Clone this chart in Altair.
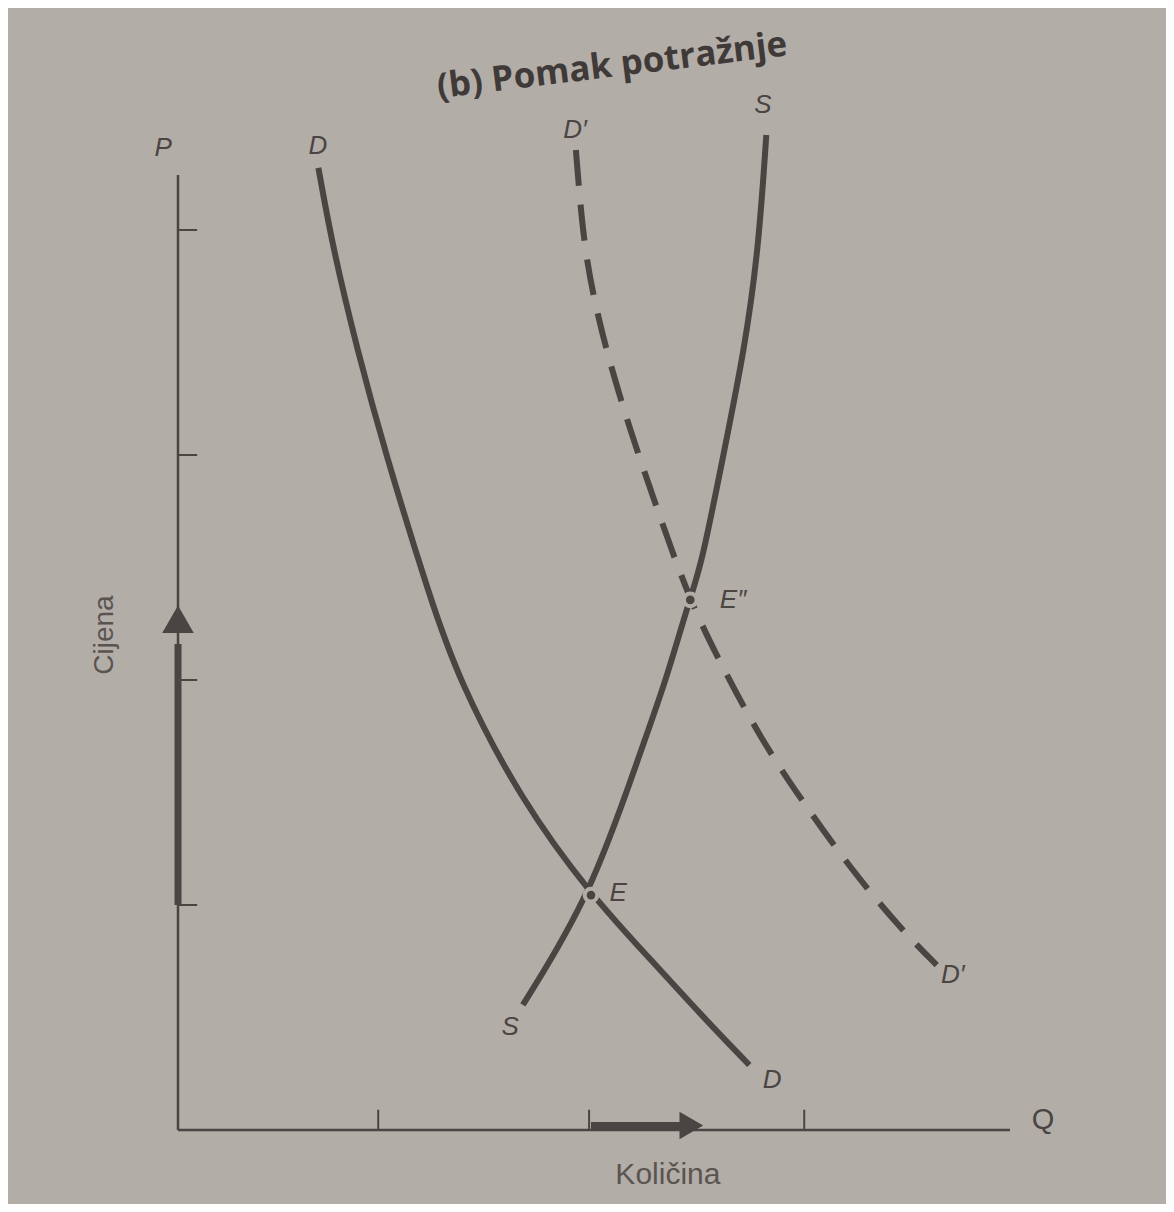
import altair as alt
import pandas as pd

# ---- data (origin = axes corner) ----
d_q = [0.659, 0.729, 0.842, 0.969, 1.186, 1.318, 1.609, 1.939, 2.221, 2.456, 2.682]
d_p = [4.276, 3.911, 3.467, 3.022, 2.356, 2.000, 1.467, 1.044, 0.756, 0.511, 0.289]

s_q = [1.619, 1.939, 2.174, 2.292, 2.400, 2.456, 2.565, 2.659, 2.725, 2.762]
s_p = [0.556, 1.044, 1.689, 2.000, 2.356, 2.502, 3.022, 3.467, 3.911, 4.422]

dp_q = [1.868, 1.906, 1.972, 2.033, 2.127, 2.235, 2.400, 2.551, 2.739, 2.927, 3.162, 3.398, 3.562]
dp_p = [4.356, 3.911, 3.613, 3.391, 3.098, 2.800, 2.356, 2.067, 1.733, 1.467, 1.156, 0.889, 0.733]

eq_q = [1.939, 2.405]
eq_p = [1.044, 2.356]

y_ticks = [1, 2, 3, 4]
x_ticks = [0.94, 1.93, 2.94]
q_axis_end = 3.906
p_axis_end = 4.244

# price arrow (up the P axis) and quantity arrow (along the Q axis)
p_arrow = [1.0, 2.16]
p_arrow_tip = 2.27
q_arrow = [1.939, 2.36]
q_arrow_tip = 2.41

italic_labels = ["P", "D", "D′", "S", "E″", "E", "S", "D", "D′"]
italic_q = [-0.07, 0.657, 1.864, 2.746, 2.606, 2.066, 1.559, 2.789, 3.638]
italic_p = [4.364, 4.373, 4.444, 4.556, 2.356, 1.053, 0.458, 0.222, 0.689]

INK = "#4a4442"
BG = "#b3ada8"

xs = alt.Scale(domain=[0, 4.0], nice=False, zero=False)
ys = alt.Scale(domain=[0, 4.4], nice=False, zero=False)


def X(f):
    return alt.X(f, type="quantitative", scale=xs, axis=None)


def Y(f):
    return alt.Y(f, type="quantitative", scale=ys, axis=None)


axes_df = pd.DataFrame({"q": [0, 0], "p": [0, 0], "q2": [0, q_axis_end], "p2": [p_axis_end, 0]})
axes = alt.Chart(axes_df).mark_rule(color=INK, strokeWidth=2.5).encode(
    x=X("q"), y=Y("p"), x2="q2", y2="p2")

yt_df = pd.DataFrame({"q": [0] * len(y_ticks), "q2": [0.09] * len(y_ticks), "p": y_ticks})
yt = alt.Chart(yt_df).mark_rule(color=INK, strokeWidth=2).encode(x=X("q"), x2="q2", y=Y("p"))

xt_df = pd.DataFrame({"q": x_ticks, "p": [0] * len(x_ticks), "p2": [0.09] * len(x_ticks)})
xt = alt.Chart(xt_df).mark_rule(color=INK, strokeWidth=2).encode(x=X("q"), y=Y("p"), y2="p2")

line_kw = dict(color=INK, strokeWidth=6, interpolate="basis", strokeCap="butt")
d_line = alt.Chart(pd.DataFrame({"q": d_q, "p": d_p})).mark_line(**line_kw).encode(x=X("q"), y=Y("p"))
s_line = alt.Chart(pd.DataFrame({"q": s_q, "p": s_p})).mark_line(**line_kw).encode(x=X("q"), y=Y("p"))
dp_line = alt.Chart(pd.DataFrame({"q": dp_q, "p": dp_p})).mark_line(
    strokeDash=[36, 19], **line_kw).encode(x=X("q"), y=Y("p"))

eq_df = pd.DataFrame({"q": eq_q, "p": eq_p})
eq_ring = alt.Chart(eq_df).mark_point(filled=True, shape="circle", size=280, color=BG, opacity=1).encode(
    x=X("q"), y=Y("p"))
eq_dot = alt.Chart(eq_df).mark_point(filled=True, shape="circle", size=75, color=INK, opacity=1).encode(
    x=X("q"), y=Y("p"))

pa_df = pd.DataFrame({"q": [0], "p": [p_arrow[0]], "p2": [p_arrow[1]]})
pa = alt.Chart(pa_df).mark_rule(color=INK, strokeWidth=7).encode(x=X("q"), y=Y("p"), y2="p2")
pa_head = alt.Chart(pd.DataFrame({"q": [0], "p": [p_arrow_tip]})).mark_point(
    filled=True, shape="triangle-up", size=1000, color=INK, opacity=1).encode(x=X("q"), y=Y("p"))

qa_df = pd.DataFrame({"q": [q_arrow[0]], "q2": [q_arrow[1]], "p": [0.02]})
qa = alt.Chart(qa_df).mark_rule(color=INK, strokeWidth=7).encode(x=X("q"), x2="q2", y=Y("p"))
qa_head = alt.Chart(pd.DataFrame({"q": [q_arrow_tip], "p": [0.02]})).mark_point(
    filled=True, shape="triangle-right", size=750, color=INK, opacity=1).encode(x=X("q"), y=Y("p"))

lab_df = pd.DataFrame({"q": italic_q, "p": italic_p, "t": italic_labels})
labels = alt.Chart(lab_df).mark_text(
    font="Liberation Sans", fontStyle="italic", fontSize=26, color=INK, align="center", baseline="middle"
).encode(x=X("q"), y=Y("p"), text="t:N")

q_lab = alt.Chart(pd.DataFrame({"q": [4.061], "p": [0.044], "t": ["Q"]})).mark_text(
    font="Liberation Sans", fontSize=29, color=INK, align="center", baseline="middle"
).encode(x=X("q"), y=Y("p"), text="t:N")

cij = alt.Chart(pd.DataFrame({"q": [-0.343], "p": [2.2], "t": ["Cijena"]})).mark_text(
    font="Liberation Sans", fontSize=28, color="#5a5450", align="center", baseline="middle", angle=270
).encode(x=X("q"), y=Y("p"), text="t:N")

kol = alt.Chart(pd.DataFrame({"q": [2.30], "p": [-0.2], "t": ["Količina"]})).mark_text(
    font="Liberation Sans", fontSize=30, color="#5a5450", align="center", baseline="middle"
).encode(x=X("q"), y=Y("p"), text="t:N")

title = alt.Chart(pd.DataFrame({"q": [2.038], "p": [4.73], "t": ["(b) Pomak potražnje"]})).mark_text(
    font="Open Sans", fontWeight="bold", fontSize=35, color="#3f3a38", align="center",
    baseline="middle", angle=353
).encode(x=X("q"), y=Y("p"), text="t:N")

chart = alt.layer(
    axes, yt, xt, d_line, s_line, dp_line, eq_ring, eq_dot, pa, pa_head, qa, qa_head,
    labels, q_lab, cij, kol, title
).properties(
    width=852, height=990,
    autosize=alt.AutoSizeParams(type="none"),
    padding={"left": 170, "top": 132, "right": 136, "bottom": 74},
    background=BG,
).configure_view(stroke=None)

chart.save("out.html", embed_options={"renderer": "svg", "actions": False})
